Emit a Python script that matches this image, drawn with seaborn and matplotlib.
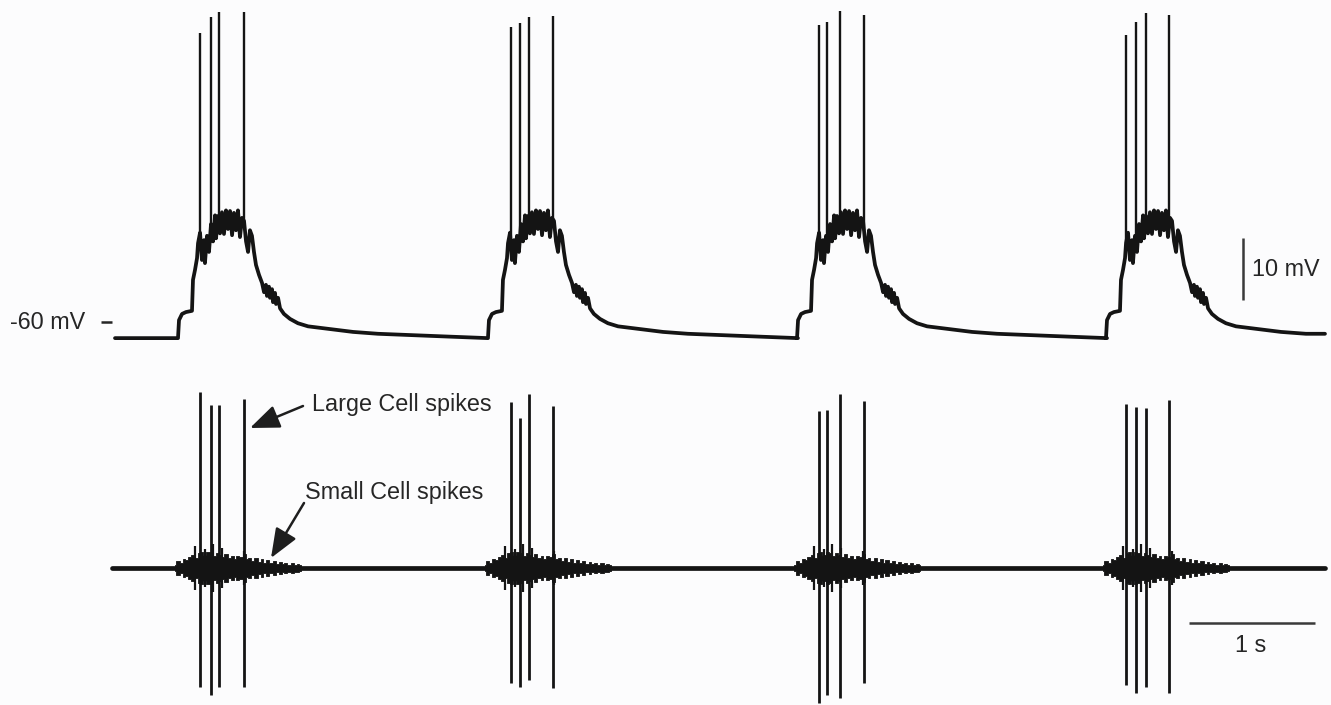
import numpy as np
import pandas as pd
import matplotlib
matplotlib.use("Agg")
import matplotlib.pyplot as plt
import seaborn as sns

# ---------------- data ----------------
burst_onsets_s = [0.500, 2.960, 5.413, 7.865]
trace_start_s = 0.0
trace_end_s = 9.603
baseline_mV = -62.6

# intracellular burst envelope: time after onset (ms) and depolarisation above baseline (mV)
env_ms = [0, 8, 32, 63, 111, 119, 135, 151, 159, 175,
          190, 206, 214, 230, 246, 262, 278, 294, 302, 317,
          333, 349, 365, 381, 397, 413, 429, 444, 460, 476,
          492, 508, 524, 540, 556, 571, 587, 603, 619, 643,
          667, 683, 698, 706, 722, 730, 746, 754, 770, 778,
          794, 810, 841, 889, 952, 1032, 1190, 1389, 1587, 1825,
          2143, 2460]
env_mV = [0.0, 2.9, 3.9, 4.2, 4.4, 9.4, 11.0, 12.9, 15.3, 17.0,
          12.6, 15.8, 12.1, 16.5, 13.9, 18.4, 15.6, 19.8, 16.1, 19.7,
          16.9, 20.3, 16.8, 20.6, 17.6, 20.5, 16.6, 20.2, 17.4, 20.6,
          16.3, 19.4, 18.9, 15.6, 13.9, 17.4, 16.5, 13.9, 11.8, 10.2,
          8.9, 7.4, 8.6, 6.8, 8.3, 6.5, 7.9, 5.8, 7.3, 5.5,
          6.5, 4.8, 3.9, 3.1, 2.4, 1.9, 1.5, 1.0, 0.7, 0.5,
          0.25, 0.0]

# large-cell spike times after burst onset (ms) and intracellular peaks (mV)
spike_ms = [[175, 262, 325, 524],
            [183, 254, 325, 516],
            [175, 238, 341, 532],
            [159, 238, 317, 500]]
spike_peak_mV = [[-13.4, -10.8, -10.0, -10.0],
                 [-12.4, -11.8, -10.8, -10.6],
                 [-12.1, -11.6, -9.8, -10.5],
                 [-13.7, -11.6, -10.2, -10.5]]

# extracellular large-cell spikes: positive and negative deflections (a.u.)
ext_up = [[176, 163, 163, 169],
          [166, 150, 174, 162],
          [157, 158, 174, 167],
          [164, 161, 160, 168]]
ext_down = [[-119, -127, -119, -119],
            [-115, -119, -112, -120],
            [-135, -127, -130, -115],
            [-117, -125, -119, -125]]

# extracellular small-cell activity: half-width of the ragged envelope (a.u.) after onset (ms)
small_env_ms = [-24, 0, 24, 48, 71, 95, 119, 143, 167, 190,
                214, 238, 262, 286, 310, 333, 357, 381, 405, 429,
                452, 476, 500, 524, 548, 571, 595, 619, 643, 667,
                690, 714, 738, 762, 786, 810, 833, 857, 881, 905,
                929, 952, 976]
small_env_hw = [3, 7, 5, 9, 8, 11, 13, 10, 15, 16,
                13, 16, 15, 12, 15, 13, 11, 14, 10, 12,
                9, 12, 11, 14, 9, 10, 7, 10, 6, 9,
                5, 8, 5, 7, 4, 6, 4, 5, 3.5, 5,
                3.5, 4, 3]
# taller small-cell spikes riding on the burst
small_spk_ms = [135, 214, 278, 349, 524]
small_spk_amp = [22, 19, 24, 20, 17]

# ---------------- figure ----------------
sns.set_theme(style="white")
plt.rcParams["font.family"] = ["Liberation Sans", "DejaVu Sans"]

W, H = 1331, 705
bg = "#fcfcfd"
ink = "#141414"
fig = plt.figure(figsize=(W / 100, H / 100), dpi=100, facecolor=bg)

px_per_s = 126.0
x0_px = 115.0
xlim = (-x0_px / px_per_s, (W - x0_px) / px_per_s)

ax_top = fig.add_axes([0, 0, 1, 1])
ax_bot = fig.add_axes([0, 0, 1, 1])
for ax in (ax_top, ax_bot):
    ax.set_xlim(*xlim)
    ax.set_axis_off()
ax_top.set_facecolor(bg)
ax_bot.patch.set_alpha(0)
# top: mV scale (6.2 px per mV, -60 mV at y=322 px)
ax_top.set_ylim(-60 - (H - 322) / 6.2, -60 + 322 / 6.2)
# bottom: a.u., baseline at y=568 px
ax_bot.set_ylim(-(H - 568), 568)

env_t = np.array(env_ms) / 1000.0
env_v = np.array(env_mV)

# ----- intracellular trace -----
tt = [trace_start_s]
vv = [baseline_mV]
for on in burst_onsets_s:
    t_abs = on + env_t
    keep = t_abs <= trace_end_s
    tt.extend(t_abs[keep])
    vv.extend(baseline_mV + env_v[keep])
tt.append(trace_end_s)
vv.append(vv[-1])
top_df = pd.DataFrame({"t": tt, "v": vv})
sns.lineplot(data=top_df, x="t", y="v", ax=ax_top, sort=False, estimator=None,
             color=ink, linewidth=2.7)

sp_t, sp_base, sp_peak = [], [], []
for on, sms, peaks in zip(burst_onsets_s, spike_ms, spike_peak_mV):
    for s, p in zip(sms, peaks):
        rel = s / 1000.0
        sp_t.append(on + rel)
        sp_base.append(baseline_mV + np.interp(rel, env_t, env_v))
        sp_peak.append(p)
ax_top.vlines(sp_t, sp_base, sp_peak, color=ink, linewidth=1.7)

# ----- extracellular trace -----
bot_df = pd.DataFrame({"t": [trace_start_s - 0.02, trace_end_s], "v": [0, 0]})
sns.lineplot(data=bot_df, x="t", y="v", ax=ax_bot, sort=False, estimator=None,
             color=ink, linewidth=3.4)
senv_t = np.array(small_env_ms) / 1000.0
senv_h = np.array(small_env_hw, dtype=float)
sspk_t = np.array(small_spk_ms) / 1000.0
sspk_a = np.array(small_spk_amp, dtype=float)
for on, sms, ups, downs in zip(burst_onsets_s, spike_ms, ext_up, ext_down):
    ax_bot.fill_between(on + senv_t, -senv_h, senv_h, step="mid", color=ink,
                        linewidth=0.6, edgecolor=ink)
    ax_bot.vlines(on + sspk_t, -sspk_a, sspk_a, color=ink, linewidth=1.6)
    ts = on + np.array(sms) / 1000.0
    ax_bot.vlines(ts, downs, ups, color=ink, linewidth=2.0)

# ----- labels & scale bars -----
txt = "#262626"
fs = 16.8
def t_of(xpx):
    return (xpx - x0_px) / px_per_s

ax_top.text(t_of(10), -60, "-60 mV", ha="left", va="center", fontsize=fs, color=txt)
ax_top.plot([t_of(101), t_of(112)], [-60, -60], color=txt, linewidth=1.8,
            solid_capstyle="butt")

ax_top.plot([t_of(1243), t_of(1243)], [-56.45, -46.45], color="#3a3a3a", linewidth=1.8,
            solid_capstyle="butt")
ax_top.text(t_of(1252), -51.6, "10 mV", ha="left", va="center", fontsize=fs, color=txt)

ax_bot.plot([t_of(1189), t_of(1189) + 1.0], [-55, -55], color="#3a3a3a", linewidth=1.8,
            solid_capstyle="butt")
ax_bot.text(t_of(1251), -78, "1 s", ha="center", va="center", fontsize=fs, color=txt)

arrow = dict(arrowstyle="-|>,head_length=1.0,head_width=0.4", color="#1e1e1e",
             linewidth=1.8, shrinkA=0, shrinkB=0, mutation_scale=18)
ax_bot.text(t_of(312), 568 - 405, "Large Cell spikes", ha="left", va="center",
            fontsize=fs, color=txt)
ax_bot.annotate("", xy=(t_of(250), 568 - 428), xytext=(t_of(303), 568 - 406),
                arrowprops=arrow)
ax_bot.text(t_of(305), 568 - 493, "Small Cell spikes", ha="left", va="center",
            fontsize=fs, color=txt)
ax_bot.annotate("", xy=(t_of(271), 568 - 558), xytext=(t_of(304), 568 - 503),
                arrowprops=arrow)

fig.savefig("out.png", dpi=100, facecolor=bg)
